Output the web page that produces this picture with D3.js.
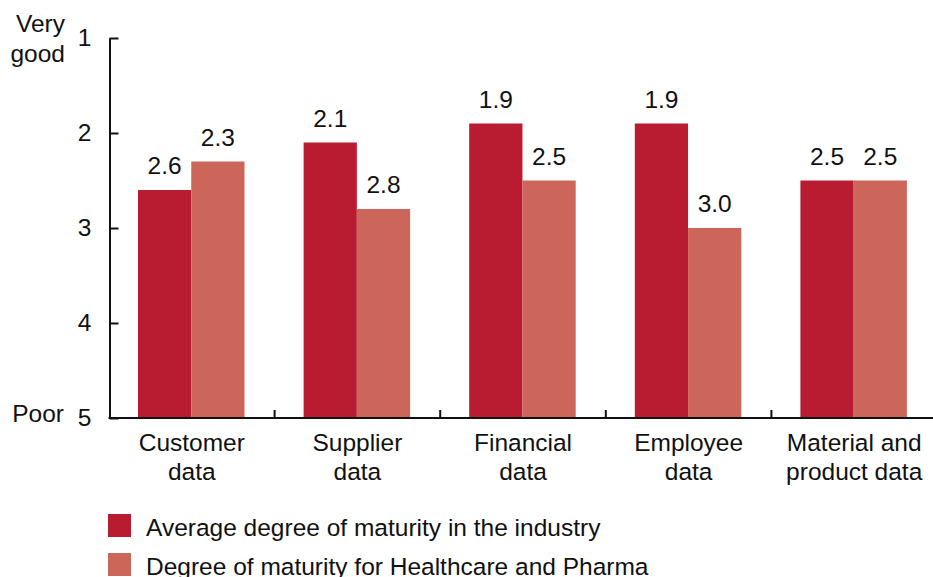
<!DOCTYPE html>
<html>
<head>
<meta charset="utf-8">
<script src="https://cdn.jsdelivr.net/npm/d3@7"></script>
<style>
  html, body { margin: 0; padding: 0; background: #fff; }
  svg { display: block; font-family: "Liberation Sans", Arial, Helvetica, sans-serif; }
  text { fill: #111; }
</style>
</head>
<body>
<svg id="chart" width="933" height="577"></svg>
<script>
// Data: maturity score, 1 = very good, 5 = poor
const categories = [
  ["Customer", "data"],
  ["Supplier", "data"],
  ["Financial", "data"],
  ["Employee", "data"],
  ["Material and", "product data"]
];
const seriesNames = [
  "Average degree of maturity in the industry",
  "Degree of maturity for Healthcare and Pharma"
];
const industryAvg = [2.6, 2.1, 1.9, 1.9, 2.5];
const healthcarePharma = [2.3, 2.8, 2.5, 3.0, 2.5];
const yTicks = [1, 2, 3, 4, 5];
const colors = ["#b91c31", "#cc665a"];

const svg = d3.select("#chart");
const fontSize = 24.5;
const catKeys = categories.map(c => c.join(" "));

const x0 = d3.scaleBand().domain(catKeys).range([109, 937]).paddingInner(0).paddingOuter(0);
const x1 = d3.scaleBand().domain(seriesNames).range([29, 135.5]).padding(0);
const y = d3.scaleLinear().domain([1, 5]).range([38, 418]);

const rows = catKeys.map((k, i) => ({
  key: k,
  values: [
    { s: seriesNames[0], v: industryAvg[i], c: colors[0] },
    { s: seriesNames[1], v: healthcarePharma[i], c: colors[1] }
  ]
}));

// Bars rise from the "Poor" baseline up to the score
const groups = svg.selectAll("g.grp").data(rows).join("g")
  .attr("class", "grp")
  .attr("transform", d => `translate(${x0(d.key)},0)`);

groups.selectAll("rect").data(d => d.values).join("rect")
  .attr("x", d => x1(d.s))
  .attr("width", x1.bandwidth())
  .attr("y", d => y(d.v))
  .attr("height", d => y(5) - y(d.v))
  .attr("fill", d => d.c);

groups.selectAll("text.val").data(d => d.values).join("text")
  .attr("class", "val")
  .attr("x", d => x1(d.s) + x1.bandwidth() / 2)
  .attr("y", d => y(d.v) - 16)
  .attr("text-anchor", "middle")
  .attr("font-size", fontSize)
  .text(d => d.v.toFixed(1));

// Y axis: ticks point inward, labels to the left
const yAxis = d3.axisLeft(y).tickValues(yTicks).tickFormat(d3.format("d"))
  .tickSizeInner(-9).tickSizeOuter(0).tickPadding(18);
const gy = svg.append("g").attr("transform", "translate(109.5,0)").call(yAxis);
gy.select(".domain").attr("stroke", "#111").attr("stroke-width", 2);
gy.selectAll(".tick line").attr("stroke", "#111").attr("stroke-width", 2);
gy.selectAll(".tick text").attr("font-size", fontSize).attr("font-family", null)
  .attr("fill", "#111").attr("dy", "0.3em");

// X axis baseline with separators between categories
const gx = svg.append("g").attr("transform", `translate(0,${y(5)})`);
gx.append("line").attr("x1", 108.5).attr("x2", 933).attr("y1", 0).attr("y2", 0)
  .attr("stroke", "#111").attr("stroke-width", 2);
gx.selectAll("line.sep").data(catKeys.slice(1)).join("line")
  .attr("class", "sep")
  .attr("x1", d => x0(d)).attr("x2", d => x0(d))
  .attr("y1", 0).attr("y2", -8)
  .attr("stroke", "#111").attr("stroke-width", 2);

const catText = gx.selectAll("text.cat").data(categories).join("text")
  .attr("class", "cat")
  .attr("text-anchor", "middle")
  .attr("font-size", fontSize)
  .attr("transform", (d, i) => `translate(${x0(catKeys[i]) + x0.bandwidth() / 2},0)`);
catText.selectAll("tspan").data(d => d).join("tspan")
  .attr("x", 0)
  .attr("y", (d, i) => 33 + i * 29)
  .text(d => d);

// Scale end labels
svg.append("text").attr("x", 65).attr("y", 32).attr("text-anchor", "end")
  .attr("font-size", fontSize).text("Very");
svg.append("text").attr("x", 65).attr("y", 62).attr("text-anchor", "end")
  .attr("font-size", fontSize).text("good");
svg.append("text").attr("x", 64).attr("y", 422).attr("text-anchor", "end")
  .attr("font-size", fontSize).text("Poor");

// Legend
const legend = svg.selectAll("g.leg").data(seriesNames).join("g")
  .attr("class", "leg")
  .attr("transform", (d, i) => `translate(108,${514 + i * 39})`);
legend.append("rect").attr("width", 23).attr("height", 23)
  .attr("fill", (d, i) => colors[i]);
legend.append("text").attr("x", 38).attr("y", 22)
  .attr("font-size", fontSize).text(d => d);
</script>
</body>
</html>
